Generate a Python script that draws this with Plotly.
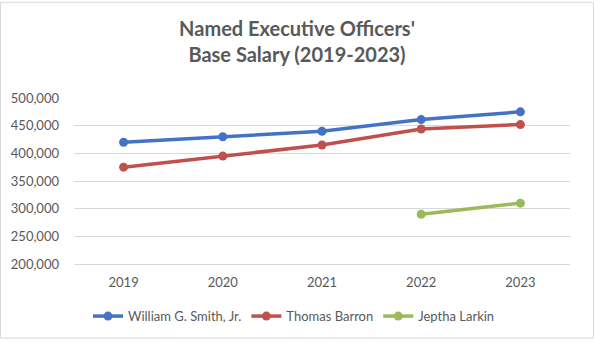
import plotly.graph_objects as go

years = ["2019", "2020", "2021", "2022", "2023"]
smith = [420000, 430000, 440000, 461000, 475000]
barron = [375000, 395000, 415000, 444000, 452000]
larkin = [None, None, None, 290000, 310000]
names = ["William G. Smith, Jr.", "Thomas Barron", "Jeptha Larkin"]
colors = ["#4472C4", "#C0504D", "#9BBB59"]
y_ticks = [200000, 250000, 300000, 350000, 400000, 450000, 500000]

W, H = 594, 343
ML, MR, MT, MB = 74, 24, 98, 76

fig = go.Figure()
for name, vals, c in zip(names, [smith, barron, larkin], colors):
    fig.add_trace(go.Scatter(
        x=years, y=vals, name=name, mode="lines+markers",
        line=dict(color=c, width=3.5),
        marker=dict(color=c, size=9),
        connectgaps=False,
    ))

font_fam = "Lato, 'Open Sans', sans-serif"
fig.update_layout(
    width=W, height=H,
    margin=dict(l=ML, r=MR, t=MT, b=MB),
    paper_bgcolor="white", plot_bgcolor="white",
    font=dict(family=font_fam, color="#595959", size=13),
    title=dict(
        text="<b>Named Executive Officers'<br>Base Salary (2019-2023)</b>",
        x=0.5, xanchor="center", y=0.895, yanchor="middle",
        font=dict(size=20, color="#595959", family=font_fam),
    ),
    xaxis=dict(
        type="category", range=[-0.5, 4.5], showgrid=False,
        showline=True, linecolor="#D9D9D9", linewidth=1,
        ticks="", tickfont=dict(size=13, color="#595959"),
        ticklabelstandoff=6,
    ),
    yaxis=dict(
        range=[200000, 500000], tickvals=y_ticks, tickformat=",",
        showgrid=True, gridcolor="#D9D9D9", gridwidth=1,
        zeroline=False, showline=False, ticks="",
        tickfont=dict(size=13, color="#595959"),
        ticklabelstandoff=14,
    ),
    legend=dict(
        orientation="h", x=(294 - ML) / (W - ML - MR), xanchor="center",
        y=-0.314, yanchor="middle",
        font=dict(size=13, color="#595959"),
        itemwidth=30, tracegroupgap=0,
    ),
    showlegend=True,
)
fig.add_shape(
    type="rect", xref="paper", yref="paper",
    x0=-(ML - 0.5) / (W - ML - MR), x1=1 + (MR - 0.5) / (W - ML - MR),
    y0=-(MB - 0.5) / (H - MT - MB), y1=1 + (MT - 0.5) / (H - MT - MB),
    line=dict(color="#D9D9D9", width=1), fillcolor="rgba(0,0,0,0)", layer="below",
)
fig.write_html("out.html")
